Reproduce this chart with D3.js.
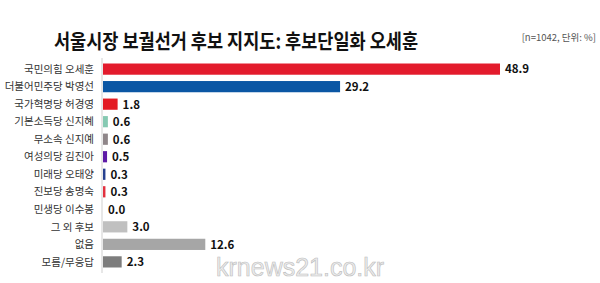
<!DOCTYPE html>
<html>
<head>
<meta charset="utf-8">
<script src="https://cdn.jsdelivr.net/npm/d3@7"></script>
<style>
  body { margin: 0; background: #fff; }
  svg { display: block; font-family: "Noto Sans CJK KR", "Noto Sans", sans-serif; }
</style>
</head>
<body>
<svg id="chart" width="600" height="283"></svg>
<script>
// data
var categories = ['국민의힘 오세훈', '더불어민주당 박영선', '국가혁명당 허경영', '기본소득당 신지혜',
  '무소속 신지예', '여성의당 김진아', '미래당 오태양', '진보당 송명숙', '민생당 이수봉',
  '그 외 후보', '없음', '모름/무응답'];
var values = [48.9, 29.2, 1.8, 0.6, 0.6, 0.5, 0.3, 0.3, 0.0, 3.0, 12.6, 2.3];
var barColors = ['#e31b2c', '#0b57a4', '#e31b23', '#86c9b2', '#8f8689', '#5d1aa6',
  '#26408f', '#e2303f', '#cccccc', '#c0c0c0', '#a6a6a6', '#7d7d7d'];

var svg = d3.select('#chart');
var left = 103;

var x = d3.scaleLinear().domain([0, 48.9]).range([left, 500]);
var y = d3.scaleBand().domain(categories).range([60, 271]).paddingInner(0.36).paddingOuter(0.2);

// title
svg.append('text')
  .attr('x', 54).attr('y', 49)
  .attr('font-size', 20).attr('font-weight', 'bold')
  .attr('textLength', 364).attr('lengthAdjust', 'spacingAndGlyphs')
  .attr('fill', '#111')
  .text('서울시장 보궐선거 후보 지지도: 후보단일화 오세훈');

svg.append('text')
  .attr('x', 596).attr('y', 41)
  .attr('text-anchor', 'end')
  .attr('font-size', 9.5)
  .attr('fill', '#555')
  .text('[n=1042, 단위: %]');

// bars
svg.selectAll('.bar')
  .data(values)
  .enter()
  .append('rect')
  .attr('class', 'bar')
  .attr('x', left)
  .attr('y', function(d, i) { return y(categories[i]); })
  .attr('width', function(d) { return x(d) - left; })
  .attr('height', y.bandwidth())
  .attr('fill', function(d, i) { return barColors[i]; });

// category labels
svg.selectAll('.cat')
  .data(categories)
  .enter()
  .append('text')
  .attr('class', 'cat')
  .attr('x', 94)
  .attr('y', function(d) { return y(d) + y.bandwidth() / 2; })
  .attr('dy', '0.35em')
  .attr('text-anchor', 'end')
  .attr('font-size', 10.5)
  .attr('fill', '#333')
  .text(function(d) { return d; });

// value labels
svg.selectAll('.val')
  .data(values)
  .enter()
  .append('text')
  .attr('class', 'val')
  .attr('x', function(d) { return x(d) + 5; })
  .attr('y', function(d, i) { return y(categories[i]) + y.bandwidth() / 2; })
  .attr('dy', '0.38em')
  .attr('font-size', 11.5).attr('font-weight', 'bold')
  .attr('fill', '#111')
  .text(function(d) { return d.toFixed(1); });

// vertical axis line
svg.append('line')
  .attr('x1', 102).attr('x2', 102)
  .attr('y1', 58).attr('y2', 273)
  .attr('stroke', '#cfcfcf').attr('stroke-width', 1);

// watermark
svg.append('text')
  .attr('x', 216).attr('y', 276)
  .attr('font-size', 25)
  .attr('font-family', 'Liberation Sans, sans-serif')
  .attr('fill', '#ececec')
  .attr('stroke', '#bdbdbd').attr('stroke-width', 0.6)
  .text('krnews21.co.kr');
</script>
</body>
</html>
